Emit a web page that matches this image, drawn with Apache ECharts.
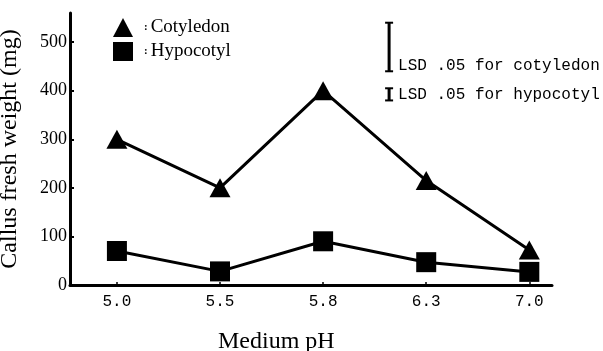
<!DOCTYPE html>
<html><head><meta charset="utf-8">
<script src="https://cdn.jsdelivr.net/npm/echarts@6/dist/echarts.min.js"></script>
<style>html,body{margin:0;padding:0;background:#fff}#c{width:603px;height:351px}</style>
</head><body><div id="c"></div>
<script>
const categories = ['5.0', '5.5', '5.8', '6.3', '7.0'];
const cotyledon = [300, 200, 400, 215, 72];
const hypocotyl = [70, 28, 90, 47, 27];
const yTicks = [0, 100, 200, 300, 400, 500];
const lsdLabels = ['LSD .05 for cotyledon', 'LSD .05 for hypocotyl'];
const lsdValues = [100, 25];
const lsdBases = [440, 380];
const lsdX = 2.64;

const catIdx = categories.map((c, i) => i);
const serif = '"Liberation Serif", "DejaVu Serif", serif';
const mono = '"Liberation Mono", "DejaVu Sans Mono", monospace';

const chart = echarts.init(document.getElementById('c'), null, {renderer: 'canvas'});
chart.setOption({
  animation: false,
  backgroundColor: '#fff',
  title: {
    text: 'Medium pH', left: 213, top: 325,
    textStyle: {fontFamily: serif, fontSize: 24, fontWeight: 'normal', color: '#000'}
  },
  legend: {
    orient: 'vertical', left: 108, top: 13, itemWidth: 20, itemHeight: 19, itemGap: 5,
    data: [{name: 'Cotyledon', icon: 'triangle'}, {name: 'Hypocotyl', icon: 'rect'}],
    formatter: n => '{s|:}{t|' + n + '}',
    textStyle: {
      color: '#000',
      rich: {
        s: {fontSize: 11, fontWeight: 'bold', fontFamily: serif, padding: [0, 3, 0, 6], color: '#000'},
        t: {fontSize: 19, fontFamily: serif, color: '#000'}
      }
    }
  },
  grid: {left: 70, right: 51, top: 13, bottom: 66, containLabel: false, outerBoundsMode: 'none'},
  xAxis: {
    type: 'value', min: -0.455, max: 4.22,
    splitLine: {show: false},
    axisLine: {show: true, onZero: false, lineStyle: {color: '#000', width: 3}},
    axisTick: {show: true, inside: true, length: 3, customValues: catIdx, lineStyle: {color: '#000', width: 1.5}},
    axisLabel: {
      customValues: catIdx, margin: 9,
      formatter: v => categories[Math.round(v)],
      fontFamily: mono, fontSize: 16, color: '#000'
    }
  },
  yAxis: {
    type: 'value', min: 0, max: 560,
    name: 'Callus fresh weight (mg)', nameLocation: 'middle', nameGap: 48, nameRotate: 90,
    nameTextStyle: {fontFamily: serif, fontSize: 24, color: '#000'},
    splitLine: {show: false},
    axisLine: {show: true, onZero: false, lineStyle: {color: '#000', width: 3}},
    axisTick: {show: true, inside: true, length: 4, customValues: yTicks, lineStyle: {color: '#000', width: 2}},
    axisLabel: {customValues: yTicks, margin: 3, fontFamily: serif, fontSize: 18, color: '#000'}
  },
  series: [
    {
      name: 'Cotyledon', type: 'line', data: cotyledon.map((v, i) => [i, v]),
      symbol: 'triangle', symbolSize: [21, 19],
      lineStyle: {color: '#000', width: 3}, itemStyle: {color: '#000'}, z: 3
    },
    {
      name: 'Hypocotyl', type: 'line', data: hypocotyl.map((v, i) => [i, v]),
      symbol: 'rect', symbolSize: [20, 20],
      lineStyle: {color: '#000', width: 3}, itemStyle: {color: '#000'}, z: 3
    },
    {
      name: 'LSD', type: 'custom', clip: false,
      data: lsdValues.map((v, i) => [lsdX, lsdBases[i], lsdBases[i] + v]),
      renderItem: (params, api) => {
        const x = api.value(0), lo = api.value(1), hi = api.value(2);
        const top = api.coord([x, hi]);
        const bot = api.coord([x, lo]);
        const i = params.dataIndex;
        const cap = 4;
        return {
          type: 'group',
          children: [
            {type: 'line', shape: {x1: top[0], y1: top[1], x2: bot[0], y2: bot[1]}, style: {stroke: '#000', lineWidth: 3}},
            {type: 'line', shape: {x1: top[0] - cap, y1: top[1], x2: top[0] + cap, y2: top[1]}, style: {stroke: '#000', lineWidth: 2}},
            {type: 'line', shape: {x1: bot[0] - cap, y1: bot[1], x2: bot[0] + cap, y2: bot[1]}, style: {stroke: '#000', lineWidth: 2}},
            {
              type: 'text',
              x: bot[0] + 9,
              y: i === 0 ? bot[1] + 2 : (top[1] + bot[1]) / 2,
              style: {
                text: lsdLabels[i], fill: '#000', font: '16px ' + mono,
                verticalAlign: i === 0 ? 'bottom' : 'middle', align: 'left'
              }
            }
          ]
        };
      }
    }
  ]
});
</script>
</body></html>
